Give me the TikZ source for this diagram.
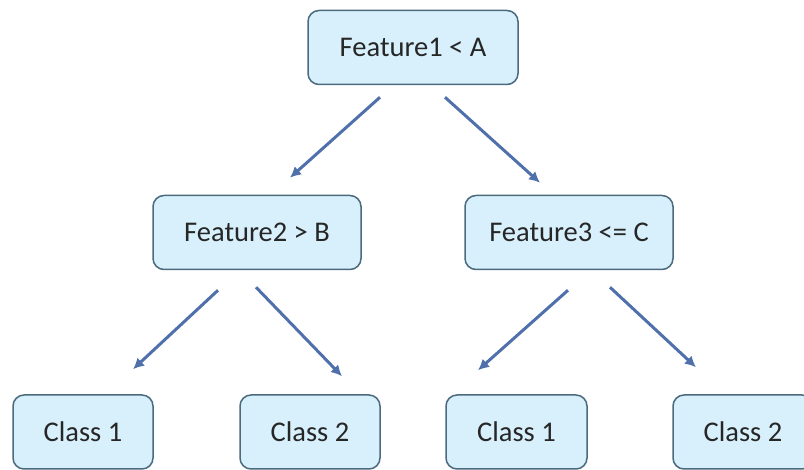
\documentclass[tikz,border=0pt]{standalone}
\usepackage{fontspec}
\setmainfont{Carlito}
\usetikzlibrary{arrows.meta,calc}
\definecolor{boxfill}{HTML}{D7F0FB}
\definecolor{boxline}{HTML}{4B6A7E}
\definecolor{arrowblue}{HTML}{5070AC}
\definecolor{textgrey}{HTML}{262626}
\begin{document}
\begin{tikzpicture}[x=1pt,y=-1pt,
  treebox/.style={draw=boxline,fill=boxfill,line width=1.5pt,rounded corners=11pt,
    minimum width=#1,minimum height=74pt,inner sep=0pt,
    font=\fontsize{28.5}{34}\selectfont,text=textgrey},
  treebox/.default=208pt,
  branch/.style={draw=arrowblue,line width=3pt,-{Latex[length=11pt,width=11pt]}}]
\useasboundingbox (0,0) rectangle (804,470);
\clip (0,0) rectangle (804,470);

% decision nodes
\node[treebox=210pt] (root) at (413,47.5) {Feature1 < A};
\node[treebox] (f2) at (257,232.5) {Feature2 > B};
\node[treebox] (f3) at (569,232.5) {Feature3 <= C};

% leaves
\node[treebox=140pt] (c1l) at (83,432) {Class 1};
\node[treebox=140pt] (c2l) at (310,432) {Class 2};
\node[treebox=141pt] (c1r) at (516.5,432) {Class 1};
\node[treebox=140pt] (c2r) at (743,432) {Class 2};

% branch end points, set off from the boxes
\coordinate (r-a) at ($(root.south)+(-33,12)$);
\coordinate (r-b) at ($(root.south)+(32,12)$);
\coordinate (f2-in) at ($(f2.north)+(33,-17)$);
\coordinate (f3-in) at ($(f3.north)+(-29,-12)$);
\coordinate (f2-a) at ($(f2.south)+(-39,20)$);
\coordinate (f2-b) at ($(f2.south)+(-1,17)$);
\coordinate (f3-a) at ($(f3.south)+(-1,20)$);
\coordinate (f3-b) at ($(f3.south)+(41,17)$);
\coordinate (c1l-in) at ($(c1l.north)+(50,-25)$);
\coordinate (c2l-in) at ($(c2l.north)+(32,-18)$);
\coordinate (c1r-in) at ($(c1r.north)+(-38.5,-24)$);
\coordinate (c2r-in) at ($(c2r.north)+(-47,-27)$);

% branches
\draw[branch] (r-a) -- (f2-in);
\draw[branch] (r-b) -- (f3-in);
\draw[branch] (f2-a) -- (c1l-in);
\draw[branch] (f2-b) -- (c2l-in);
\draw[branch] (f3-a) -- (c1r-in);
\draw[branch] (f3-b) -- (c2r-in);
\end{tikzpicture}
\end{document}
